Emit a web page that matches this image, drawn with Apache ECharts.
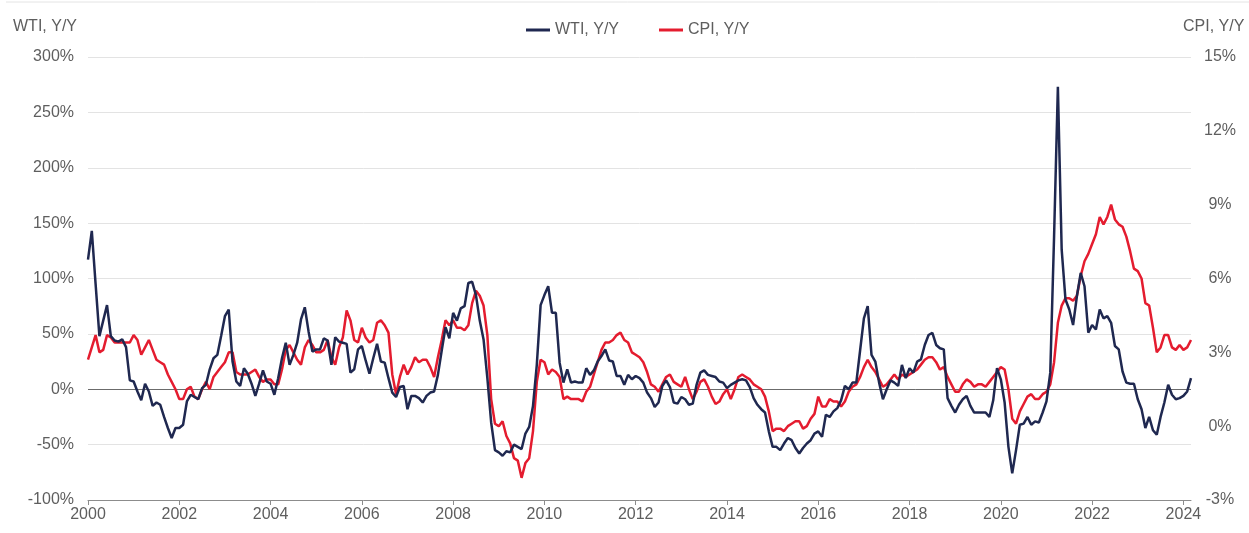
<!DOCTYPE html>
<html>
<head>
<meta charset="utf-8">
<script src="https://cdn.jsdelivr.net/npm/echarts@6/dist/echarts.min.js"></script>
<style>
html,body{margin:0;padding:0;background:#fff;}
#chart{width:1249px;height:533px;}
</style>
</head>
<body>
<div id="chart"></div>
<script>
// Monthly categories, Jan 2000 – Mar 2024
const startYear = 2000;
const months = [];
for (let y = 2000; y <= 2024; y++) {
  for (let m = 1; m <= 12; m++) {
    if (y === 2024 && m > 3) break;
    months.push(y + '-' + (m < 10 ? '0' + m : m));
  }
}

// WTI crude oil price, year-over-year % (left axis)
const wtiYoY = [
  117,143,95,48,62,76,48,44,43,45,38,8,
  7,-2,-10,5,-2,-15,-12,-14,-25,-35,-44,-35,
  -35,-32,-11,-5,-7,-9,1,4,18,28,31,48,
  66,72,25,7,3,19,14,5,-6,5,17,7,
  5,-5,10,28,42,22,31,42,63,74,52,34,
  36,36,46,44,22,47,43,42,41,15,18,36,
  39,26,14,28,41,25,24,10,-3,-7,2,3,
  -18,-6,-6,-8,-12,-6,-3,-2,13,35,56,46,
  69,62,73,75,96,97,85,62,45,10,-30,-55,
  -57,-60,-56,-57,-50,-52,-54,-40,-34,-15,22,76,
  85,93,69,69,24,6,18,6,7,6,6,19,
  13,17,25,30,36,26,25,12,12,4,13,9,
  12,10,6,-3,-8,-16,-12,3,8,2,-12,-13,
  -7,-9,-14,-13,4,15,17,13,12,11,7,6,
  1,4,6,8,9,8,2,-8,-14,-18,-21,-38,
  -52,-52,-55,-49,-44,-46,-53,-58,-53,-49,-46,-40,
  -38,-43,-23,-25,-20,-17,-10,3,0,6,6,35,
  64,75,31,25,6,-9,0,8,6,3,22,10,
  19,15,25,27,40,49,51,40,37,36,-8,-15,
  -21,-14,-9,-6,-15,-21,-21,-21,-21,-25,-10,19,
  9,-12,-52,-76,-55,-32,-31,-25,-32,-29,-30,-21,
  -11,15,138,273,126,81,72,58,84,105,93,51,
  58,54,72,64,66,60,39,36,16,6,5,5,
  -9,-18,-35,-25,-37,-41,-25,-12,4,-5,-9,-8,
  -6,-2,10
];

// CPI, year-over-year % (right axis)
const cpiYoY = [
  2.7,3.2,3.7,3.0,3.1,3.7,3.6,3.4,3.4,3.4,3.4,3.4,
  3.7,3.5,2.9,3.2,3.5,3.1,2.7,2.6,2.5,2.1,1.8,1.5,
  1.1,1.1,1.5,1.6,1.2,1.1,1.5,1.8,1.5,2.0,2.2,2.4,
  2.6,3.0,3.0,2.2,2.1,2.1,2.1,2.2,2.3,2.0,1.8,1.9,
  1.9,1.7,1.7,2.3,3.1,3.3,3.0,2.7,2.5,3.2,3.5,3.3,
  3.0,3.0,3.1,3.5,2.8,2.5,3.2,3.6,4.7,4.3,3.5,3.4,
  4.0,3.6,3.4,3.5,4.2,4.3,4.1,3.8,2.1,1.3,2.0,2.5,
  2.1,2.4,2.8,2.6,2.7,2.7,2.4,2.0,2.8,3.5,4.3,4.1,
  4.3,4.0,4.0,3.9,4.1,5.0,5.5,5.3,4.9,3.7,1.1,0.1,
  0.0,0.2,-0.4,-0.7,-1.3,-1.4,-2.1,-1.5,-1.3,-0.2,1.8,2.7,
  2.6,2.1,2.3,2.2,2.0,1.1,1.2,1.1,1.1,1.1,1.0,1.4,
  1.6,2.1,2.6,3.1,3.4,3.4,3.5,3.7,3.8,3.5,3.4,3.0,
  2.9,2.8,2.6,2.2,1.7,1.6,1.4,1.7,2.0,2.1,1.8,1.7,
  1.6,2.0,1.5,1.1,1.4,1.8,1.9,1.6,1.2,0.9,1.0,1.3,
  1.5,1.1,1.5,2.0,2.1,2.0,1.9,1.7,1.6,1.5,1.2,0.6,
  -0.2,-0.1,-0.1,-0.2,0.0,0.1,0.2,0.2,-0.1,0.0,0.3,0.5,
  1.2,0.8,0.8,1.1,1.0,1.0,0.8,1.0,1.4,1.6,1.7,2.0,
  2.4,2.7,2.4,2.2,1.9,1.6,1.7,1.9,2.1,1.9,2.1,2.0,
  2.1,2.2,2.3,2.5,2.7,2.8,2.8,2.6,2.3,2.4,2.0,1.7,
  1.4,1.4,1.7,1.9,1.8,1.6,1.7,1.7,1.6,1.8,2.0,2.2,
  2.4,2.3,1.5,0.3,0.1,0.6,0.9,1.2,1.3,1.1,1.1,1.3,
  1.4,1.7,2.6,4.2,4.9,5.2,5.2,5.1,5.3,6.1,6.7,7.0,
  7.4,7.8,8.5,8.2,8.5,9.0,8.4,8.2,8.1,7.7,7.1,6.4,
  6.3,6.0,5.0,4.9,4.0,3.0,3.2,3.7,3.7,3.2,3.1,3.3,
  3.1,3.2,3.5
];

const seriesNames = ['WTI, Y/Y', 'CPI, Y/Y'];
const leftAxis = {min: -100, max: 300, interval: 50};
const rightAxis = {min: -3, max: 15, interval: 3};

const FONT = 'Liberation Sans, Arial, sans-serif';
const TXT = '#5e5e5e';
const NAVY = '#1f2850';
const RED = '#e41c2f';

const chart = echarts.init(document.getElementById('chart'), null, {renderer: 'canvas'});

const isTick = (i) => {
  const ym = months[i];
  const y = parseInt(ym.slice(0, 4), 10);
  return ym.slice(5) === '01' && (y - startYear) % 2 === 0;
};

chart.setOption({
  animation: false,
  backgroundColor: '#fff',
  textStyle: {fontFamily: FONT},
  grid: {left: 88, right: 58, top: 57, bottom: 33, containLabel: false},
  legend: {
    data: seriesNames,
    icon: 'rect',
    top: 17,
    left: 521,
    itemWidth: 24,
    itemHeight: 3,
    itemGap: 40,
    textStyle: {color: TXT, fontSize: 16, fontFamily: FONT}
  },
  graphic: [
    {type: 'line', shape: {x1: 6, y1: 2, x2: 1249, y2: 2}, style: {stroke: '#e4e4e4', lineWidth: 1}, silent: true},
    {type: 'text', left: 13, top: 19, style: {text: 'WTI, Y/Y', fill: TXT, font: '16px ' + FONT}},
    {type: 'text', left: 1183, top: 19, style: {text: 'CPI, Y/Y', fill: TXT, font: '16px ' + FONT}}
  ],
  xAxis: {
    type: 'category',
    data: months,
    boundaryGap: false,
    axisLine: {onZero: false, lineStyle: {color: '#8c8c8c', width: 1}},
    axisTick: {show: true, interval: (i) => isTick(i), length: 5, lineStyle: {color: '#8c8c8c'}},
    axisLabel: {
      interval: (i) => isTick(i),
      formatter: (v) => v.slice(0, 4),
      color: TXT, fontSize: 16, fontFamily: FONT, margin: 7
    },
    splitLine: {show: false}
  },
  yAxis: [
    {
      type: 'value',
      position: 'left',
      min: leftAxis.min, max: leftAxis.max, interval: leftAxis.interval,
      axisLine: {show: false},
      axisTick: {show: false},
      axisLabel: {formatter: '{value}%', color: TXT, fontSize: 16, fontFamily: FONT, margin: 14},
      splitLine: {show: true, lineStyle: {color: '#e3e3e3', width: 1}}
    },
    {
      type: 'value',
      position: 'right',
      min: rightAxis.min, max: rightAxis.max, interval: rightAxis.interval,
      axisLine: {show: false},
      axisTick: {show: false},
      axisLabel: {formatter: '{value}%', color: TXT, fontSize: 16, fontFamily: FONT, margin: 29, align: 'center'},
      splitLine: {show: false}
    }
  ],
  series: [
    {
      name: seriesNames[0],
      type: 'line',
      yAxisIndex: 0,
      data: wtiYoY,
      symbol: 'none',
      z: 3,
      lineStyle: {color: NAVY, width: 2.5},
      itemStyle: {color: NAVY},
      markLine: {
        silent: true,
        symbol: 'none',
        label: {show: false},
        lineStyle: {color: '#6b6b6b', width: 1, type: 'solid'},
        data: [{yAxis: 0}],
        z: 1
      }
    },
    {
      name: seriesNames[1],
      type: 'line',
      yAxisIndex: 1,
      data: cpiYoY,
      symbol: 'none',
      z: 2,
      lineStyle: {color: RED, width: 2.5},
      itemStyle: {color: RED}
    }
  ]
});
</script>
</body>
</html>
